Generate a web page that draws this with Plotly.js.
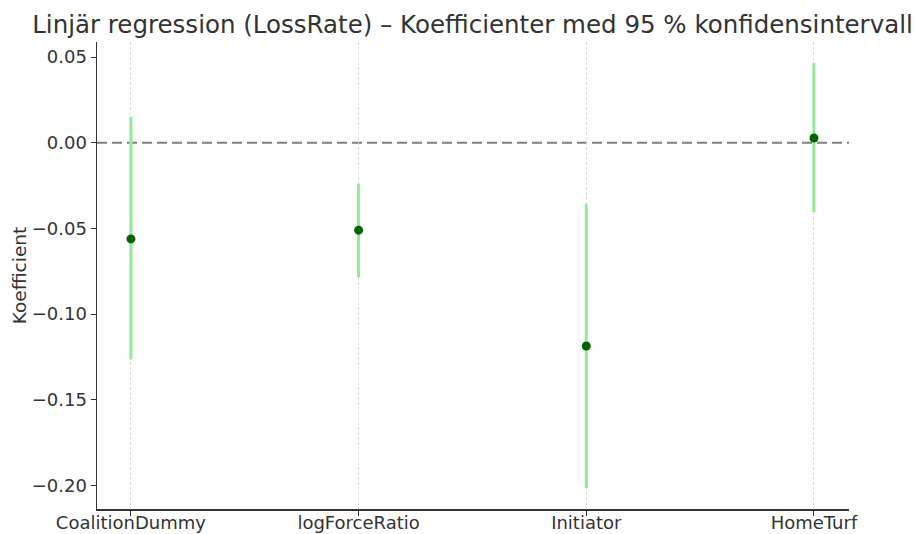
<!DOCTYPE html>
<html>
<head>
<meta charset="utf-8">
<script src="https://cdn.plot.ly/plotly-3.0.1.min.js"></script>
<style>html,body{margin:0;padding:0;background:#fff;}#chart{width:916px;height:534px;}</style>
</head>
<body>
<div id="chart"></div>
<script>
const variables = ["CoalitionDummy", "logForceRatio", "Initiator", "HomeTurf"];
const coefficients = [-0.0561, -0.0510, -0.1186, 0.0028];
const ciLower = [-0.1264, -0.0784, -0.2014, -0.0405];
const ciUpper = [0.0152, -0.0239, -0.0356, 0.0465];
const yTicks = [0.05, 0.00, -0.05, -0.10, -0.15, -0.20];

const errPlus = coefficients.map((c, i) => ciUpper[i] - c);
const errMinus = coefficients.map((c, i) => c - ciLower[i]);

const textColor = "#333333";
const fontFam = "DejaVu Sans, sans-serif";

const trace = {
  type: "scatter",
  mode: "markers",
  x: variables,
  y: coefficients,
  marker: {color: "#006400", size: 9},
  error_y: {
    type: "data",
    symmetric: false,
    array: errPlus,
    arrayminus: errMinus,
    color: "#90ee90",
    thickness: 3,
    width: 0
  },
  hoverinfo: "x+y"
};

const layout = {
  width: 916,
  height: 534,
  margin: {l: 97, r: 67, t: 42, b: 25, pad: 0},
  paper_bgcolor: "#ffffff",
  plot_bgcolor: "#ffffff",
  showlegend: false,
  font: {family: fontFam, size: 18, color: textColor},
  title: {
    text: "Linjär regression (LossRate) – Koefficienter med 95 % konfidensintervall",
    font: {family: fontFam, size: 24.5, color: textColor},
    x: 472.5 / 916, xref: "container", xanchor: "center",
    y: 1 - 24 / 534, yref: "container", yanchor: "middle"
  },
  xaxis: {
    type: "category",
    range: [-0.149, 3.154],
    showline: true, linecolor: "#333333", linewidth: 1.5,
    ticks: "outside", ticklen: 5, tickwidth: 1, tickcolor: "#333333",
    ticklabelstandoff: -8,
    showgrid: true, gridcolor: "#d4d4d4", gridwidth: 0.8, griddash: "3px,2px",
    zeroline: false,
    tickfont: {family: fontFam, size: 18, color: textColor},
    mirror: false
  },
  yaxis: {
    range: [-0.2137, 0.0588],
    tickvals: yTicks,
    tickformat: ".2f",
    showline: true, linecolor: "#333333", linewidth: 1.5,
    ticks: "outside", ticklen: 5, tickwidth: 1, tickcolor: "#333333",
    showgrid: false,
    zeroline: false,
    tickfont: {family: fontFam, size: 18, color: textColor},
    title: {text: "Koefficient", font: {family: fontFam, size: 18.5, color: textColor}, standoff: 0}
  },
  shapes: [{
    type: "line", xref: "paper", x0: 0, x1: 1, yref: "y", y0: 0, y1: 0,
    line: {color: "#808080", width: 2, dash: "10px,5px"},
    layer: "below"
  }]
};

Plotly.newPlot("chart", [trace], layout, {displayModeBar: false, staticPlot: true});
</script>
</body>
</html>
